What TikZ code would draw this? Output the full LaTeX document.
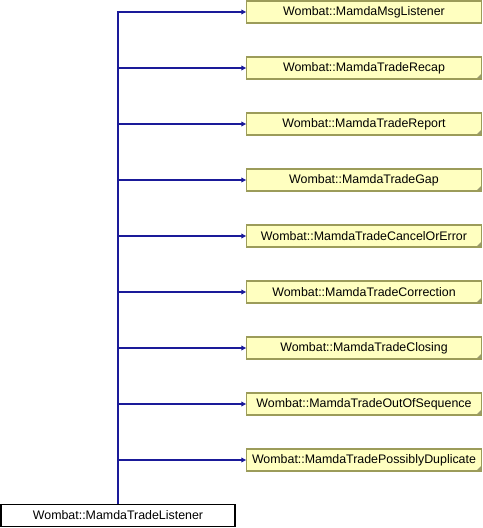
\documentclass[tikz,border=0pt]{standalone}
\usepackage{fontspec}
\setmainfont{Liberation Sans}
\usetikzlibrary{arrows.meta}
\definecolor{boxfill}{HTML}{FFFFC0}
\definecolor{boxline}{HTML}{9C9C5A}
\definecolor{edgeblue}{HTML}{1A1A99}
\definecolor{cornergrey}{HTML}{9A9A70}
\begin{document}
\begin{tikzpicture}[x=0.75pt,y=-0.75pt,
  cls/.style={draw=boxline,fill=boxfill,line width=0.9pt,minimum width=176pt,minimum height=16.5pt,inner sep=0pt,font=\fontsize{9.3}{10}\selectfont},
  folded/.style={cls,path picture={\fill[cornergrey] ([xshift=-4pt]path picture bounding box.south east) -- (path picture bounding box.south east) -- ([yshift=4pt]path picture bounding box.south east) -- cycle;}},
  basecls/.style={draw=black,fill=white,line width=0.9pt,minimum width=175.5pt,minimum height=17pt,inner sep=0pt,font=\fontsize{9.3}{10}\selectfont},
  edge/.style={draw=edgeblue,line width=0.9pt,-{Triangle[length=3.5pt,width=3.5pt]}}]
\useasboundingbox (0,0) rectangle (482,528);
\node[cls] (b1) at (364,12) {Wombat::MamdaMsgListener};
\node[folded] (b2) at (364,68) {Wombat::MamdaTradeRecap};
\node[folded] (b3) at (364,124) {Wombat::MamdaTradeReport};
\node[folded] (b4) at (364,180) {Wombat::MamdaTradeGap};
\node[folded] (b5) at (364,236) {Wombat::MamdaTradeCancelOrError};
\node[folded] (b6) at (364,292) {Wombat::MamdaTradeCorrection};
\node[folded] (b7) at (364,348) {Wombat::MamdaTradeClosing};
\node[folded] (b8) at (364,404) {Wombat::MamdaTradeOutOfSequence};
\node[folded] (b9) at (364,460) {Wombat::MamdaTradePossiblyDuplicate};
\node[basecls] (base) at (118,515.5) {Wombat::MamdaTradeListener};
\foreach \i in {1,...,9} {
  \draw[edge] (base.north) |- (b\i.west);
}
\end{tikzpicture}
\end{document}
